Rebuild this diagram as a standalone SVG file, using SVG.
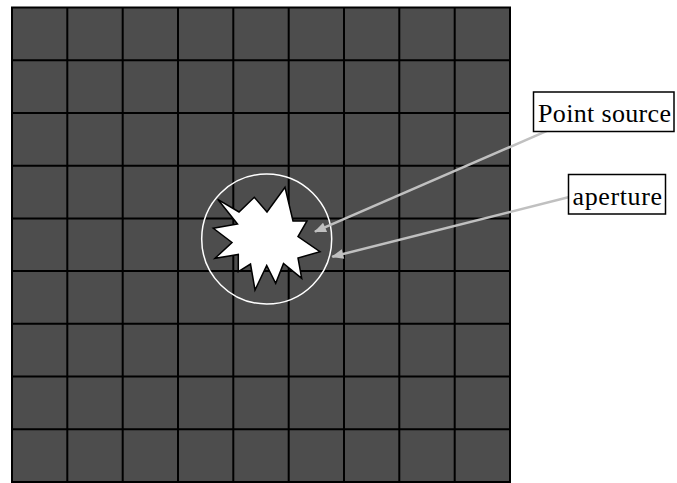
<svg xmlns="http://www.w3.org/2000/svg" width="677" height="483" viewBox="0 0 677 483">
<defs>
<style>
.grid line{stroke:#000;stroke-width:2}
.conn{stroke:#c0c0c0;stroke-width:2.5;fill:none}
.lbl{fill:#fff;stroke:#000;stroke-width:1.5}
.txt{font-family:'Liberation Serif','DejaVu Serif',serif;font-size:26px;fill:#000}
</style>
<marker id="ah" viewBox="0 0 12 10" refX="11" refY="5" markerWidth="13" markerHeight="10" orient="auto" markerUnits="userSpaceOnUse">
<path d="M0,0 L12,5 L0,10 z" fill="#c0c0c0"/>
</marker>
</defs>
<rect width="677" height="483" fill="#fff"/>
<g id="grid" class="grid">
<rect x="12" y="7.5" width="498" height="474.5" fill="#4d4d4d" stroke="#000" stroke-width="2"/>
<line x1="67.3" y1="7.5" x2="67.3" y2="482"/>
<line x1="122.7" y1="7.5" x2="122.7" y2="482"/>
<line x1="178" y1="7.5" x2="178" y2="482"/>
<line x1="233.3" y1="7.5" x2="233.3" y2="482"/>
<line x1="288.7" y1="7.5" x2="288.7" y2="482"/>
<line x1="344" y1="7.5" x2="344" y2="482"/>
<line x1="399.3" y1="7.5" x2="399.3" y2="482"/>
<line x1="454.7" y1="7.5" x2="454.7" y2="482"/>
<line x1="12" y1="60.2" x2="510" y2="60.2"/>
<line x1="12" y1="112.9" x2="510" y2="112.9"/>
<line x1="12" y1="165.7" x2="510" y2="165.7"/>
<line x1="12" y1="218.4" x2="510" y2="218.4"/>
<line x1="12" y1="271.1" x2="510" y2="271.1"/>
<line x1="12" y1="323.8" x2="510" y2="323.8"/>
<line x1="12" y1="376.5" x2="510" y2="376.5"/>
<line x1="12" y1="429.3" x2="510" y2="429.3"/>
</g>
<g id="aperture-circle">
<circle cx="266.7" cy="239" r="65" fill="none" stroke="#fff" stroke-width="1.5"/>
</g>
<g id="point-source">
<polygon points="217.7,199.3 239,212 254.3,197.3 267,212 285,187.3 293,221 307,221 298,236.5 320,251.7 298,258 301.7,278.3 283.5,263.5 275.7,283.3 266.7,265.5 255,290 250.5,264 238.3,271.7 238.3,254.5 215,258.3 232,242.5 213.3,228.3 237.5,224" fill="#fff" stroke="#000" stroke-width="1.5" stroke-linejoin="miter"/>
</g>
<g id="connectors">
<line class="conn" x1="556.7" y1="126.7" x2="315" y2="231.7" marker-end="url(#ah)"/>
<line class="conn" x1="568.3" y1="197.3" x2="332.3" y2="256.7" marker-end="url(#ah)"/>
</g>
<g id="label-point-source">
<rect class="lbl" x="533.5" y="92" width="140.5" height="39.5"/>
<text class="txt" font-family="'Liberation Serif','DejaVu Serif',serif" x="538" y="121.5" textLength="133">Point source</text>
</g>
<g id="label-aperture">
<rect class="lbl" x="568.5" y="174.5" width="97" height="39.5"/>
<text class="txt" font-family="'Liberation Serif','DejaVu Serif',serif" x="572.5" y="204.5" textLength="89.5">aperture</text>
</g>
</svg>
